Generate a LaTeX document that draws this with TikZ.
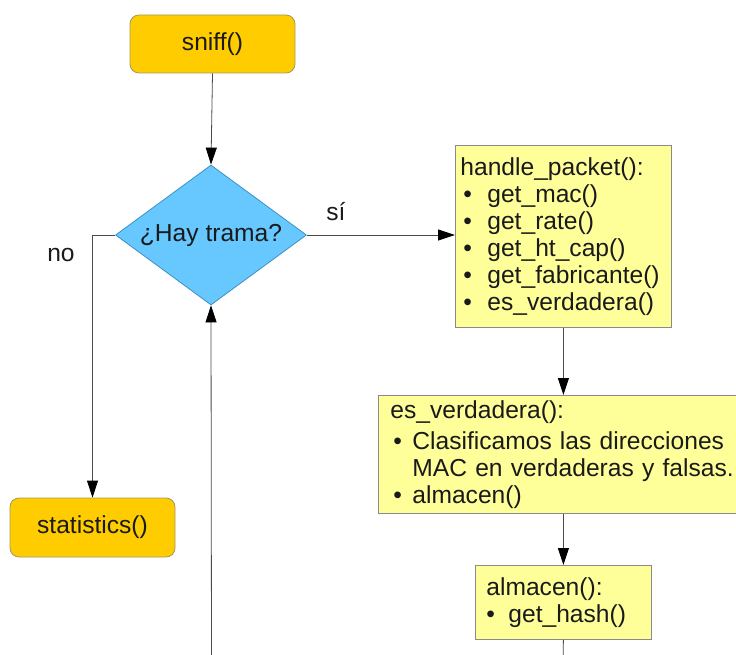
\documentclass[tikz,border=0pt]{standalone}
\usepackage{fontspec}
\setmainfont{Liberation Sans}
\usetikzlibrary{shapes.geometric,arrows.meta}

\definecolor{procfill}{HTML}{FFCC00}
\definecolor{procline}{HTML}{A89858}
\definecolor{decfill}{HTML}{66C8FF}
\definecolor{decline}{HTML}{3F8FC4}
\definecolor{notefill}{HTML}{FFFF99}
\definecolor{noteline}{HTML}{8A8A8A}
\definecolor{ink}{HTML}{1A1A1A}
\definecolor{wire}{HTML}{4A4A4A}

% bullet item: #1 = bullet offset, #2 = text indent
\newcommand{\itm}[2]{\makebox[#2][l]{\hspace{#1}•}}

\begin{document}
\begin{tikzpicture}[x=1pt,y=1pt,
  every node/.style={font=\fontsize{24.6}{27}\selectfont, text=ink},
  procbox/.style={draw=procline, fill=procfill, rounded corners=9pt, line width=0.8pt},
  decbox/.style={diamond, aspect=1.364, draw=decline, fill=decfill, line width=0.8pt, inner sep=0pt},
  notebox/.style={draw=noteline, fill=notefill, line width=0.8pt, anchor=north west,
    align=left, inner ysep=0pt},
  flow/.style={draw=wire, line width=0.8pt, -{Triangle[length=17pt,width=11pt,color=black]}},
  plain/.style={draw=wire, line width=0.8pt}]

\useasboundingbox (0,0) rectangle (736,-655);

% main loop
\node[procbox, minimum width=165pt, minimum height=58pt] (sniff) at (212.5,-44) {sniff()};
\node[decbox, minimum width=191pt, minimum height=140pt] (hay) at (211,-235) {¿Hay trama?};
\node[procbox, minimum width=165pt, minimum height=59pt] (stats) at (92.5,-527.5) {statistics()};

% packet handling notes
\node[notebox, minimum width=216pt, minimum height=182pt, inner xsep=5pt, text width=206pt]
  (handle) at (455,-145)
  {handle\_packet():\\ \itm{3pt}{27pt}get\_mac()\\ \itm{3pt}{27pt}get\_rate()\\
   \itm{3pt}{27pt}get\_ht\_cap()\\ \itm{3pt}{27pt}get\_fabricante()\\
   \itm{3pt}{27pt}es\_verdadera()};
\node[notebox, minimum width=370pt, minimum height=118pt, inner xsep=12pt, text width=346pt]
  (esv) at (378,-395)
  {es\_verdadera():\\[4pt] \itm{3pt}{22pt}Clasificamos las direcciones\\
   \hspace{22pt}MAC en verdaderas y falsas.\\ \itm{3pt}{22pt}almacen()};
\node[notebox, minimum width=176pt, minimum height=74pt, inner xsep=11pt, text width=154pt]
  (alm) at (475,-565)
  {almacen():\\ \itm{0pt}{22pt}get\_hash()};

% loose ends running off the lower edge
\coordinate (outR) at (563,-665);
\coordinate (inL) at (211.5,-665);

% connectors
\draw[flow] (sniff.south) -- (hay.north);
\draw[flow] (hay.west) -| (stats.north);
\draw[flow] (hay.east) -- (hay.east -| handle.west);
\draw[flow] (handle.south) -- (handle.south |- esv.north);
\draw[flow] (alm.north |- esv.south) -- (alm.north);
\draw[plain] (alm.south) -- (outR);
\draw[flow] (inL) -- (hay.south);

% branch labels
\node (si) at (336,-212) {sí};
\node (no) at (61,-255) {no};

\end{tikzpicture}
\end{document}
